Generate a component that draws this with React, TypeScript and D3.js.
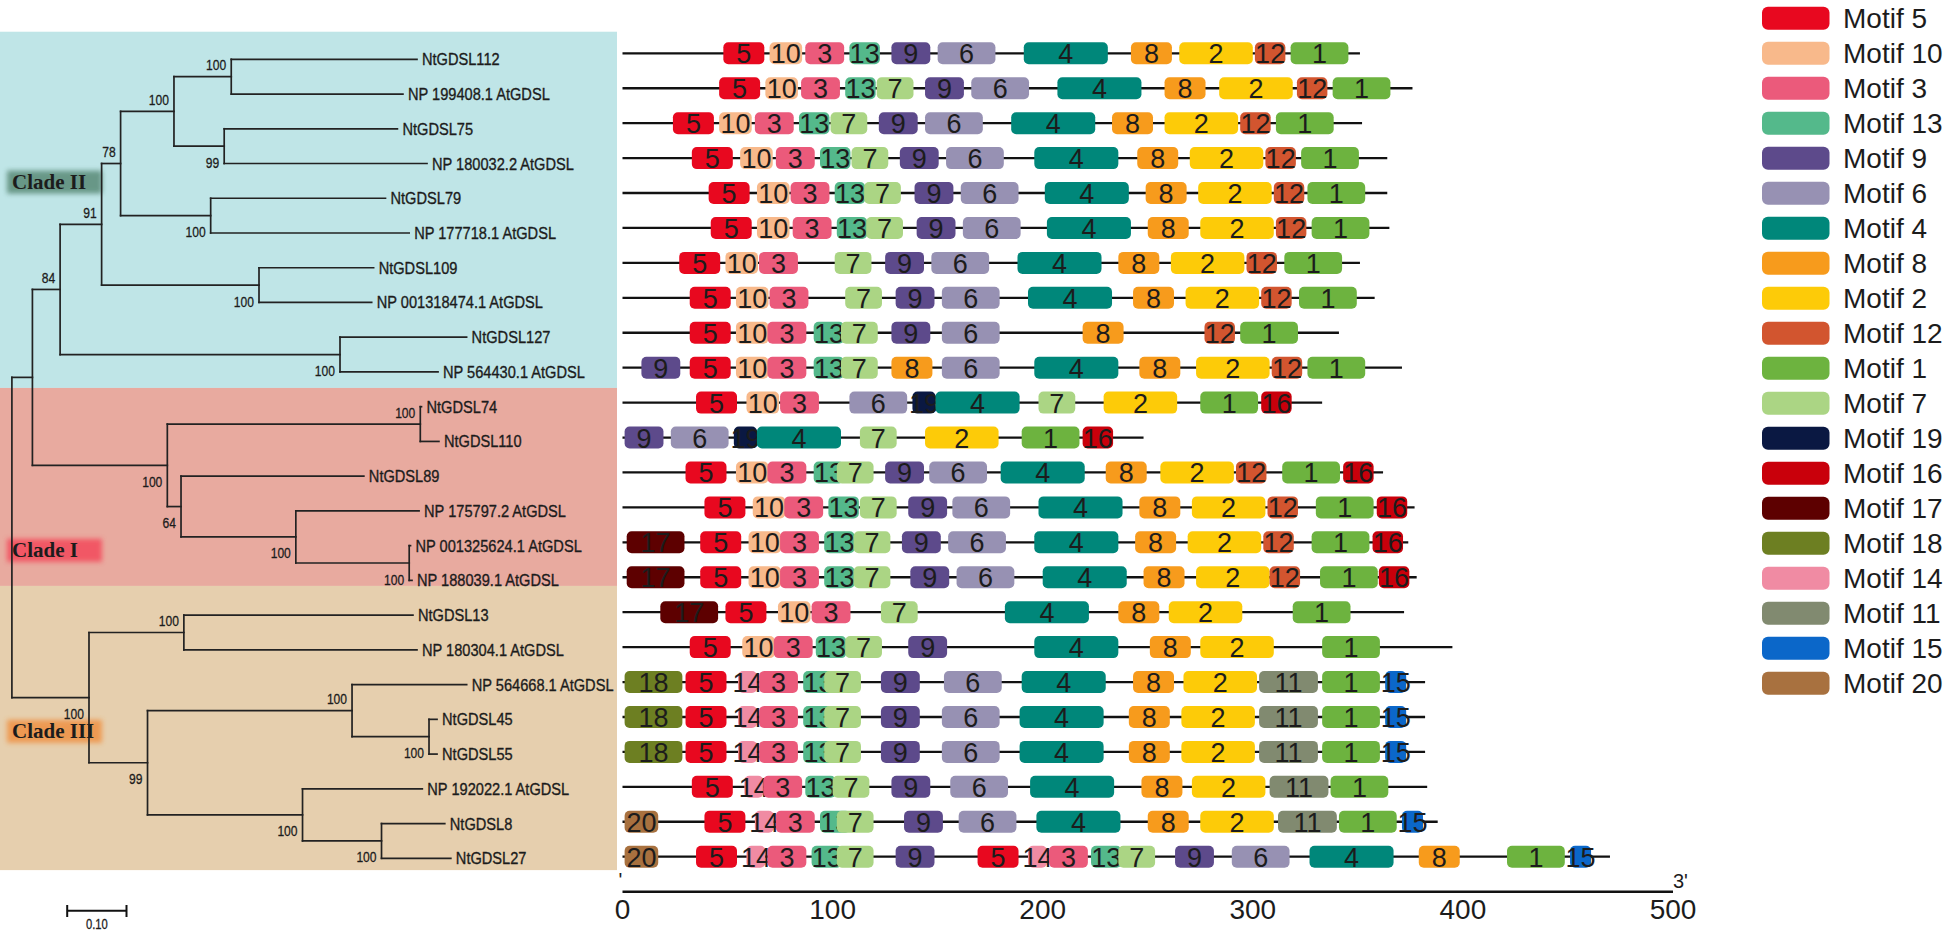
import React from 'react';
import * as d3 from 'd3';

const W = 1952;
const H = 933;

// ---------------- data ----------------
const LEAF_NAMES = [
  'NtGDSL112', 'NP 199408.1 AtGDSL', 'NtGDSL75', 'NP 180032.2 AtGDSL', 'NtGDSL79',
  'NP 177718.1 AtGDSL', 'NtGDSL109', 'NP 001318474.1 AtGDSL', 'NtGDSL127', 'NP 564430.1 AtGDSL',
  'NtGDSL74', 'NtGDSL110', 'NtGDSL89', 'NP 175797.2 AtGDSL', 'NP 001325624.1 AtGDSL',
  'NP 188039.1 AtGDSL', 'NtGDSL13', 'NP 180304.1 AtGDSL', 'NP 564668.1 AtGDSL', 'NtGDSL45',
  'NtGDSL55', 'NP 192022.1 AtGDSL', 'NtGDSL8', 'NtGDSL27',
];

type TNode = { boot?: number | null; len: number; leaf?: number; children?: TNode[] };
const nd = (boot: number | null, len: number, children: TNode[]): TNode => ({ boot, len, children });
const lf = (leaf: number, len: number): TNode => ({ leaf, len });

// branch lengths (substitutions/site) and bootstrap values
const TREE: TNode = nd(null, 0, [
  nd(null, 0.0346, [
    nd(84, 0.0467, [
      nd(91, 0.07, [
        nd(78, 0.032, [
          nd(100, 0.09, [
            nd(100, 0.0966, [lf(0, 0.3132), lf(1, 0.2895)]),
            nd(99, 0.0847, [lf(2, 0.2921), lf(3, 0.342)]),
          ]),
          nd(100, 0.1519, [lf(4, 0.2948), lf(5, 0.3347)]),
        ]),
        nd(100, 0.2654, [lf(6, 0.1933), lf(7, 0.19)]),
      ]),
      nd(100, 0.472, [lf(8, 0.2135), lf(9, 0.1653)]),
    ]),
    nd(100, 0.2275, [
      nd(100, 0.4266, [lf(10, 0.002), lf(11, 0.0314)]),
      nd(64, 0.0231, [
        lf(12, 0.3083),
        nd(100, 0.1936, [
          lf(13, 0.2078),
          nd(100, 0.1912, [lf(14, 0.0022), lf(15, 0.0047)]),
        ]),
      ]),
    ]),
  ]),
  nd(100, 0.13, [
    nd(100, 0.16, [lf(16, 0.3863), lf(17, 0.3931)]),
    nd(99, 0.0987, [
      nd(100, 0.3449, [lf(18, 0.1933), nd(100, 0.1298, [lf(19, 0.0135), lf(20, 0.0135)])]),
      nd(100, 0.2614, [lf(21, 0.202), nd(100, 0.1332, [lf(22, 0.1067), lf(23, 0.1169)])]),
    ]),
  ]),
]);

const CLADES = [
  { label: 'Clade II', from: -0.794, to: 9.46, center: 3.52, bg: '#bfe5e7', glow: '#5f8f7d' },
  { label: 'Clade I', from: 9.46, to: 15.16, center: 14.12, bg: '#e8aa9f', glow: '#f3505f' },
  { label: 'Clade III', from: 15.16, to: 23.34, center: 19.33, bg: '#e6cfae', glow: '#ee9448' },
];

const LEGEND_ORDER = [5, 10, 3, 13, 9, 6, 4, 8, 2, 12, 1, 7, 19, 16, 17, 18, 14, 11, 15, 20];

const MOTIF_COLORS: Record<number, string> = {
  1: '#6db33f', 2: '#fdcb08', 3: '#eb5a7b', 4: '#00877a', 5: '#e8081f', 6: '#9791b3',
  7: '#abd584', 8: '#f79b1c', 9: '#5d4a8b', 10: '#f8b98b', 11: '#818a70', 12: '#d2552f',
  13: '#54b98b', 14: '#f08ba3', 15: '#0b67c9', 16: '#c9000b', 17: '#5d0000', 18: '#6d7f22',
  19: '#0a1842', 20: '#a8713f',
};

const MOTIF_WIDTH: Record<number, number> = {
  1: 27.5, 2: 35, 3: 18.5, 4: 40, 5: 19.5, 6: 27.5, 7: 17.5, 8: 19.5, 9: 18.5, 10: 15.5,
  11: 28, 12: 14.5, 13: 14.5, 14: 9, 15: 10, 16: 14.5, 17: 27.5, 18: 27.5, 19: 11, 20: 16,
};

const PROTEIN_LENGTHS = [
  351, 376, 352, 364, 364, 365, 351, 358, 341, 371,
  333, 248, 362, 377, 374, 378,
  372, 395, 382, 382, 382, 383, 388, 470,
];

// [motif, start position]
const ROW_MOTIFS: [number, number][][] = [
  [[5, 48], [10, 70], [3, 87], [13, 108], [9, 128], [6, 150], [4, 191], [8, 242], [2, 265], [12, 301], [1, 318]],
  [[5, 46], [10, 68], [3, 85], [13, 106], [7, 121], [9, 144], [6, 166], [4, 207], [8, 258], [2, 284], [12, 321], [1, 338]],
  [[5, 24], [10, 46], [3, 63], [13, 84], [7, 99], [9, 122], [6, 144], [4, 185], [8, 233], [2, 258], [12, 294], [1, 311]],
  [[5, 33], [10, 56], [3, 73], [13, 94], [7, 109], [9, 132], [6, 154], [4, 196], [8, 245], [2, 270], [12, 306], [1, 323]],
  [[5, 41], [10, 64], [3, 80], [13, 101], [7, 115], [9, 139], [6, 161], [4, 201], [8, 249], [2, 274], [12, 310], [1, 326]],
  [[5, 42], [10, 64], [3, 81], [13, 102], [7, 116], [9, 140], [6, 162], [4, 202], [8, 250], [2, 275], [12, 311], [1, 328]],
  [[5, 27], [10, 49], [3, 65], [7, 101], [9, 125], [6, 147], [4, 188], [8, 236], [2, 261], [12, 297], [1, 315]],
  [[5, 32], [10, 54], [3, 70], [7, 106], [9, 130], [6, 152], [4, 193], [8, 243], [2, 268], [12, 304], [1, 322]],
  [[5, 32], [10, 54], [3, 69], [13, 91], [7, 104], [9, 128], [6, 152], [8, 219], [12, 277], [1, 294]],
  [[9, 9], [5, 32], [10, 54], [3, 69], [13, 91], [7, 104], [8, 128], [6, 152], [4, 196], [8, 246], [2, 273], [12, 309], [1, 326]],
  [[5, 35], [10, 59], [3, 75], [6, 108], [19, 138], [4, 149], [7, 198], [2, 229], [1, 275], [16, 304]],
  [[9, 1], [6, 23], [19, 53], [4, 64], [7, 113], [2, 144], [1, 190], [16, 219]],
  [[5, 30], [10, 54], [3, 69], [13, 91], [7, 102], [9, 125], [6, 146], [4, 180], [8, 230], [2, 256], [12, 292], [1, 314], [16, 343]],
  [[5, 39], [10, 62], [3, 77], [13, 98], [7, 113], [9, 136], [6, 157], [4, 198], [8, 246], [2, 271], [12, 307], [1, 330], [16, 359]],
  [[17, 2], [5, 37], [10, 60], [3, 75], [13, 96], [7, 110], [9, 133], [6, 155], [4, 196], [8, 244], [2, 269], [12, 305], [1, 328], [16, 357]],
  [[17, 2], [5, 37], [10, 60], [3, 75], [13, 96], [7, 110], [9, 137], [6, 159], [4, 200], [8, 248], [2, 273], [12, 308], [1, 332], [16, 360]],
  [[17, 18], [5, 49], [10, 74], [3, 90], [7, 123], [4, 182], [8, 236], [2, 260], [1, 319]],
  [[5, 32], [10, 57], [3, 72], [13, 92], [7, 106], [9, 136], [4, 196], [8, 251], [2, 275], [1, 333]],
  [[18, 1], [5, 30], [14, 55], [3, 65], [13, 86], [7, 96], [9, 123], [6, 153], [4, 190], [8, 243], [2, 267], [11, 303], [1, 333], [15, 363]],
  [[18, 1], [5, 30], [14, 55], [3, 65], [13, 86], [7, 96], [9, 123], [6, 152], [4, 189], [8, 241], [2, 266], [11, 303], [1, 333], [15, 363]],
  [[18, 1], [5, 30], [14, 55], [3, 65], [13, 86], [7, 96], [9, 123], [6, 152], [4, 189], [8, 241], [2, 266], [11, 303], [1, 333], [15, 363]],
  [[5, 33], [14, 58], [3, 67], [13, 87], [7, 100], [9, 128], [6, 156], [4, 194], [8, 247], [2, 271], [11, 308], [1, 337]],
  [[20, 1], [5, 39], [14, 63], [3, 73], [13, 94], [7, 102], [9, 134], [6, 160], [4, 197], [8, 250], [2, 275], [11, 312], [1, 341], [15, 371]],
  [[20, 1], [5, 35], [14, 59], [3, 69], [13, 90], [7, 102], [9, 130], [5, 169], [14, 193], [3, 203], [13, 223], [7, 236], [9, 263], [6, 290], [4, 327], [8, 379], [1, 421], [15, 451]],
];

const AXIS_TICKS = [0, 100, 200, 300, 400, 500];
const SCALE_BAR = 0.1;

// ---------------- scales ----------------
const xMotif = d3.scaleLinear().domain([0, 500]).range([622.5, 1673]);
const yMotif = d3.scaleLinear().domain([0, 23]).range([53.3, 856.7]);
const xTree = d3.scaleLinear().domain([0, 1]).range([11.9, 604.9]);
const yTree = d3.scaleLinear().domain([0, 23]).range([59.3, 858.3]);
const yLegend = d3.scaleLinear().domain([0, 19]).range([18.3, 683.3]);

const SANS = "'Liberation Sans', Arial, Helvetica, sans-serif";
const SERIF = "'Liberation Serif', 'Times New Roman', serif";
const INK = '#1c1c1c';

function layoutTree() {
  const root = d3.hierarchy<TNode>(TREE, (d) => d.children) as any;
  root.eachBefore((n: any) => {
    const parentCum = n.parent ? n.parent.cum : 0;
    n.cum = parentCum + (n.parent ? n.data.len : 0);
    n.px = xTree(n.cum);
  });
  root.eachAfter((n: any) => {
    if (n.children && n.children.length) {
      n.py = (n.children[0].py + n.children[n.children.length - 1].py) / 2;
    } else {
      n.py = yTree(n.data.leaf);
    }
  });
  return root;
}

export default function App() {
  const root = layoutTree();
  const nodes = root.descendants() as any[];

  const lines: any[] = [];
  const boots: any[] = [];
  const leafLabels: any[] = [];
  nodes.forEach((n, i) => {
    if (n.parent) {
      lines.push(<line key={'h' + i} x1={n.parent.px} x2={n.px} y1={n.py} y2={n.py} />);
    }
    if (n.children) {
      const c = n.children;
      lines.push(<line key={'v' + i} x1={n.px} x2={n.px} y1={c[0].py} y2={c[c.length - 1].py} />);
      if (n.parent && n.data.boot != null) {
        const first = n.parent.children[0] === n;
        const by = first ? n.py - 6.5 : n.py + 21.5;
        boots.push(
          <text key={'b' + i} transform={`translate(${n.px - 5},${by}) scale(0.78,1)`} textAnchor="end"
            fontSize={15.5} fontFamily={SANS} fill={INK} stroke={INK} strokeWidth={0.3}>{n.data.boot}</text>
        );
      }
    } else {
      leafLabels.push(
        <text key={'l' + i} transform={`translate(${n.px + 5},${n.py + 6}) scale(0.86,1)`}
          fontSize={17} fontFamily={SANS} fill={INK} stroke={INK} strokeWidth={0.35}>{LEAF_NAMES[n.data.leaf]}</text>
      );
    }
  });

  const barX0 = xTree(0) + 55.3;
  const barX1 = barX0 + (xTree(SCALE_BAR) - xTree(0));

  return (
    <svg width={W} height={H} style={{ position: 'absolute', left: 0, top: 0, background: '#fff' }}
      xmlns="http://www.w3.org/2000/svg">
      <defs>
        <filter id="glow" x="-20%" y="-40%" width="140%" height="180%">
          <feGaussianBlur stdDeviation="2.5" />
        </filter>
      </defs>
      <rect x={0} y={0} width={W} height={H} fill="#fff" />

      {/* clade bands */}
      {CLADES.map((c) => (
        <rect key={c.label} x={0} y={yTree(c.from)} width={617} height={yTree(c.to) - yTree(c.from)} fill={c.bg} />
      ))}
      {CLADES.map((c) => {
        const cy = yTree(c.center);
        return (
          <g key={'lab' + c.label}>
            <rect x={7} y={cy - 11} width={95} height={23} fill={c.glow} opacity={0.9} filter="url(#glow)" />
            <text x={12} y={cy + 7} fontFamily={SERIF} fontWeight="bold" fontSize={21} fill={INK}>{c.label}</text>
          </g>
        );
      })}

      {/* tree */}
      <g stroke="#222" strokeWidth={1.7} strokeLinecap="square">{lines}</g>
      {boots}
      {leafLabels}

      {/* scale bar */}
      <g stroke="#111" strokeWidth={2}>
        <line x1={barX0} x2={barX1} y1={910.7} y2={910.7} />
        <line x1={barX0} x2={barX0} y1={905} y2={917} />
        <line x1={barX1} x2={barX1} y1={905} y2={917} />
      </g>
      <text transform={`translate(${(barX0 + barX1) / 2},${929}) scale(0.8,1)`} textAnchor="middle"
        fontSize={14} fontFamily={SANS} fill={INK} stroke={INK} strokeWidth={0.3}>{SCALE_BAR.toFixed(2)}</text>

      {/* motif rows */}
      {ROW_MOTIFS.map((row, ri) => {
        const y = yMotif(ri);
        return (
          <g key={'r' + ri}>
            <line x1={xMotif(0)} x2={xMotif(PROTEIN_LENGTHS[ri])} y1={y} y2={y} stroke="#111" strokeWidth={2.3} />
            {row.map(([m, s], mi) => {
              const x0 = xMotif(s);
              const x1 = xMotif(s + MOTIF_WIDTH[m]);
              return (
                <g key={mi}>
                  <rect x={x0} y={y - 11} width={x1 - x0} height={22} rx={5} ry={5} fill={MOTIF_COLORS[m]} />
                  <text x={(x0 + x1) / 2} y={y + 10} textAnchor="middle" fontSize={27} fontFamily={SANS}
                    fill={INK}>{m}</text>
                </g>
              );
            })}
          </g>
        );
      })}

      {/* axis */}
      <line x1={xMotif(0)} x2={xMotif(500)} y1={891.7} y2={891.7} stroke="#111" strokeWidth={2.5} />
      {AXIS_TICKS.map((t) => (
        <text key={'t' + t} x={xMotif(t)} y={919} textAnchor="middle" fontSize={28} fontFamily={SANS} fill={INK}>{t}</text>
      ))}
      <text x={xMotif(0) - 4} y={887} fontSize={20} fontFamily={SANS} fill={INK}>'</text>
      <text x={xMotif(500)} y={888} fontSize={20} fontFamily={SANS} fill={INK}>3'</text>

      {/* legend */}
      {LEGEND_ORDER.map((m, i) => {
        const cy = yLegend(i);
        return (
          <g key={'lg' + m}>
            <rect x={1762} y={cy - 11.5} width={67.5} height={23} rx={6} ry={6} fill={MOTIF_COLORS[m]} />
            <text x={1843} y={cy + 10} fontSize={28} fontFamily={SANS} fill={INK}>{`Motif ${m}`}</text>
          </g>
        );
      })}
    </svg>
  );
}
